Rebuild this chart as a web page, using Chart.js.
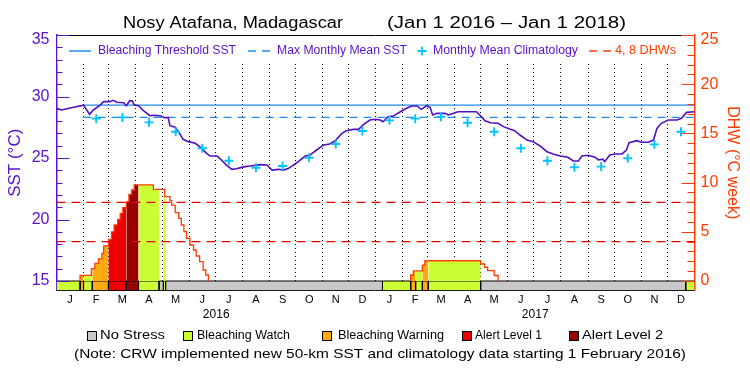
<!DOCTYPE html>
<html>
<head>
<meta charset="utf-8">
<script src="https://cdn.jsdelivr.net/npm/chart.js@4.4.0/dist/chart.umd.min.js"></script>
<style>
  html, body { margin: 0; padding: 0; background: #fff; }
</style>
</head>
<body>
<canvas id="crwChart" width="750" height="375"></canvas>
<script>
// x values are days since Jan 1 2016 (Jan 1 2018 = day 731)

// daily SST (°C)
const sstDays = [0, 6, 17, 31, 38, 42, 50, 54, 61, 65, 69, 77, 80, 84, 87, 89, 94, 99, 107, 111,
  119, 124, 128, 130, 136, 141, 145, 151, 159, 164, 172, 176, 184, 189, 195, 201, 206, 212, 216, 222,
  233, 241, 247, 254, 260, 266, 271, 277, 285, 290, 298, 306, 313, 319, 327, 332, 340, 346, 352, 359,
  365, 371, 374, 380, 386, 394, 401, 407, 413, 418, 424, 428, 431, 436, 445, 449, 455, 460, 481, 485,
  491, 497, 506, 512, 520, 525, 531, 539, 546, 554, 562, 569, 577, 586, 592, 598, 602, 609, 617, 621,
  626, 628, 634, 640, 648, 653, 656, 665, 670, 678, 684, 688, 693, 701, 711, 716, 722, 731];
const sstValues = [29.05, 28.9, 29.09, 29.3, 28.55, 28.9, 29.3, 29.58, 29.58, 29.69, 29.53, 29.5, 29.25, 29.66, 29.63, 29.3, 29.25, 28.9, 28.44, 28.47,
  28.44, 28.28, 28.28, 27.63, 27.5, 27.0, 26.52, 26.33, 26.2, 25.92, 25.38, 25.16, 25.16, 24.84, 24.4, 24.08, 24.13, 24.24, 24.3, 24.35,
  24.46, 24.43, 24.02, 24.08, 24.02, 24.16, 24.4, 24.7, 25.16, 25.22, 25.65, 26.06, 26.14, 26.38, 27.0, 27.22, 27.33, 27.33, 27.74, 28.09,
  28.15, 28.09, 27.95, 28.36, 28.41, 28.76, 29.04, 29.23, 29.23, 28.96, 29.25, 29.12, 28.5, 28.63, 28.63, 28.5, 28.63, 28.76, 28.76, 28.5,
  28.03, 27.87, 27.82, 27.55, 27.33, 27.22, 26.87, 26.46, 26.33, 25.98, 25.51, 25.33, 25.16, 25.06, 24.76, 24.76, 25.16, 25.22, 25.06, 24.84,
  24.9, 24.7, 25.24, 25.33, 25.33, 25.65, 26.24, 26.41, 26.28, 26.28, 26.46, 27.41, 27.82, 28.09, 28.09, 28.23, 28.71, 28.76];

// monthly mean climatology, Feb 2016 .. Dec 2017 (plotted mid-month)
const climStart = [2016, 1];
const climValues = [28.2, 28.3, 27.9, 27.14, 25.79, 24.78, 24.21, 24.35, 25.02, 26.14, 27.2,
  28.06, 28.2, 28.36, 27.87, 27.14, 25.79, 24.78, 24.24, 24.3, 24.98, 26.11, 27.14];

const thresholdSst = 29.3;   // bleaching threshold
const mmmSst = 28.3;         // max monthly mean
const refStartDay = 31;      // both reference lines start Feb 1 2016
const dhwGuides = [4, 8];

// degree heating weeks, stepped; null splits the two events
const dhwDays = [27, 27, 31, 40, 41, 44, 48, 52, 54, 59.5, 63, 66, 70, 73, 76, 80, 83, 86, 89, 94,
  111, 117.5, 122.5, 124, 125, 130, 132, 136, 140, 143, 146, 149, 153, 157, 160, 164, 168, 171, 174,
  300,
  405.8, 405.8, 409, 411.5, 419.2, 422, 426, 486, 490.5, 494, 501.5, 506];
const dhwValues = [0, 0.58, 0.58, 1.25, 1.25, 1.8, 2.24, 2.8, 3.56, 4.24, 5.0, 5.7, 6.27, 6.88, 7.45, 8.06, 8.8, 9.25, 9.76, 9.76,
  9.32, 9.32, 9.32, 8.57, 8.57, 8.16, 7.72, 6.94, 6.37, 5.69, 5.01, 4.34, 3.66, 3.15, 2.54, 1.96, 1.12, 0.61, 0,
  null,
  0, 0.61, 1.02, 1.02, 1.63, 2.06, 2.06, 1.73, 1.4, 1.05, 0.56, 0];

// bleaching alert strip: segment start days and level (0 none .. 4 alert 2)
const stressDays = [0, 27, 31, 41, 59.5, 80, 94, 117.5, 122.5, 125, 373.5, 405.8, 411.5, 419.2, 426, 486, 721, 731];
const stressLevels = [1, 2, 1, 2, 3, 4, 1, 0, 1, 0, 1, 2, 1, 2, 1, 0, 1];

const stressNames = ['No Stress', 'Bleaching Watch', 'Bleaching Warning', 'Alert Level 1', 'Alert Level 2'];
const stressColors = ['#c8c8c8', '#ccff33', '#ffaa11', '#ee0000', '#990000'];

const monthLetters = ['J', 'F', 'M', 'A', 'M', 'J', 'J', 'A', 'S', 'O', 'N', 'D'];
const years = [2016, 2017];
const sstTicks = [15, 20, 25, 30, 35];
const dhwTicks = [0, 5, 10, 15, 20, 25];

const PURPLE = '#5a10cc';
const SST_LINE = '#5010c0';
const BLUE = '#1e8cf0';
const CYAN = '#00c4ff';
const DHW_RED = '#ff3c00';
const GUIDE_RED = '#e80000';
const FONT = 'Liberation Sans, Arial, sans-serif';

// axis ranges: SST 15..35 and DHW 0..25 share the pixels, strip hangs below
const SST_MIN = 14.23, SST_MAX = 35;
const DHW_MIN = -0.965, DHW_MAX = 25;

function dayOf(y, m, d) {
    return (Date.UTC(y, m, d) - Date.UTC(2016, 0, 1)) / 864e5;
}

const monthStarts = [];
const monthMids = [];
const monthLabels = [];
years.forEach(y => {
    for (let m = 0; m < 12; m++) {
        const a = dayOf(y, m, 1), b = dayOf(y, m + 1, 1);
        monthStarts.push(a);
        monthMids.push((a + b) / 2);
        monthLabels.push(monthLetters[m]);
    }
});
const yearMids = years.map(y => (dayOf(y, 0, 1) + dayOf(y + 1, 0, 1)) / 2);

const climPoints = climValues.map((v, i) => {
    const y = climStart[0], m = climStart[1] + i;
    return { x: (dayOf(y, m, 1) + dayOf(y, m + 1, 1)) / 2, y: v };
});

function levelAt(day) {
    for (let i = 0; i < stressLevels.length; i++) {
        if (day >= stressDays[i] && day < stressDays[i + 1]) return stressLevels[i];
    }
    return 0;
}

const sstPoints = sstDays.map((d, i) => ({ x: d, y: sstValues[i] }));
const dhwPoints = dhwDays.map((d, i) => ({ x: d, y: dhwValues[i] }));
const stripPoints = stressDays.map(d => ({ x: d, y: 0 }));
const stripEdges = [];
stressDays.slice(1, -1).forEach(d => {
    stripEdges.push({ x: d, y: 0 }, { x: d, y: DHW_MIN }, { x: d, y: null });
});

const midOf = c => (c.p0.parsed.x + c.p1.parsed.x) / 2;

// the top label of each y axis sits just under the frame, not centred on it
const topLabel = top => (v => v === top ? ['', String(v)] : String(v));
const topFont = top => (c => (c.tick && c.tick.value === top)
    ? { family: FONT, size: 16, lineHeight: '10px' }
    : { family: FONT, size: 16 });

// text squeezed/stretched to span x0..x1
function spanText(ctx, text, x0, x1, yMid, size, color) {
    ctx.save();
    ctx.font = size + 'px ' + FONT;
    ctx.fillStyle = color;
    ctx.textBaseline = 'middle';
    ctx.textAlign = 'left';
    const w = ctx.measureText(text).width;
    ctx.translate(x0, yMid);
    ctx.scale((x1 - x0) / w, 1);
    ctx.fillText(text, 0, 0);
    ctx.restore();
}

function hLine(ctx, x0, x1, y, color, dash, width) {
    ctx.save();
    ctx.strokeStyle = color;
    ctx.lineWidth = width || 1.5;
    ctx.setLineDash(dash || []);
    ctx.beginPath();
    ctx.moveTo(x0, y);
    ctx.lineTo(x1, y);
    ctx.stroke();
    ctx.restore();
}

const decor = {
    id: 'crwDecor',
    afterDatasetsDraw(chart) {
        const ctx = chart.ctx;
        const a = chart.chartArea;
        // in-plot key, on a white band
        ctx.save();
        ctx.fillStyle = '#fff';
        ctx.fillRect(a.left + 1, a.top + 1, a.right - a.left - 2, 27);
        ctx.restore();
        const ky = 51;
        hLine(ctx, 69, 91, ky, BLUE);
        spanText(ctx, 'Bleaching Threshold SST', 98, 236, ky, 12, PURPLE);
        hLine(ctx, 248, 271, ky, BLUE, [8, 6]);
        spanText(ctx, 'Max Monthly Mean SST', 277, 407, ky, 12, PURPLE);
        ctx.save();
        ctx.strokeStyle = CYAN;
        ctx.lineWidth = 1.8;
        ctx.beginPath();
        ctx.moveTo(422 - 4.5, ky); ctx.lineTo(422 + 4.5, ky);
        ctx.moveTo(422, ky - 4.5); ctx.lineTo(422, ky + 4.5);
        ctx.stroke();
        ctx.restore();
        spanText(ctx, 'Monthly Mean Climatology', 433, 578, ky, 12, PURPLE);
        hLine(ctx, 589, 611, ky, DHW_RED, [8, 6]);
        spanText(ctx, '4, 8 DHWs', 615, 676, ky, 12, DHW_RED);
    },
    afterDraw(chart) {
        const ctx = chart.ctx;
        const a = chart.chartArea;
        const yS = chart.scales.y, yD = chart.scales.y2;
        // inward tick marks
        ctx.save();
        ctx.lineWidth = 1;
        ctx.strokeStyle = PURPLE;
        ctx.beginPath();
        for (let v = sstTicks[0]; v <= sstTicks[sstTicks.length - 1]; v++) {
            const py = Math.round(yS.getPixelForValue(v)) + 0.5;
            ctx.moveTo(a.left, py);
            ctx.lineTo(a.left + (v % 5 ? 6 : 13), py);
        }
        ctx.stroke();
        ctx.strokeStyle = DHW_RED;
        ctx.beginPath();
        for (let v = dhwTicks[0]; v <= dhwTicks[dhwTicks.length - 1]; v++) {
            const py = Math.round(yD.getPixelForValue(v)) + 0.5;
            ctx.moveTo(a.right, py);
            ctx.lineTo(a.right - (v % 5 ? 7 : 13), py);
        }
        ctx.stroke();
        ctx.restore();

        // title
        spanText(ctx, 'Nosy Atafana, Madagascar', 123, 343, 23.5, 16, '#000');
        spanText(ctx, '(Jan 1 2016 \u2013 Jan 1 2018)', 387, 626, 23.5, 16, '#000');

        // stress key
        const boxes = [[87, 100, 165], [183, 197, 290], [322, 338, 444], [462, 475, 542], [569, 582, 663]];
        const ly = 335.5;
        boxes.forEach((b, i) => {
            ctx.save();
            ctx.fillStyle = stressColors[i];
            ctx.fillRect(b[0], ly - 4.5, 9, 9);
            ctx.strokeStyle = '#000';
            ctx.lineWidth = 1;
            ctx.strokeRect(b[0] + 0.5, ly - 4.5 + 0.5, 9, 9);
            ctx.restore();
            spanText(ctx, stressNames[i], b[1], b[2], ly, 12, '#000');
        });
        spanText(ctx, '(Note: CRW implemented new 50-km SST and climatology data starting 1 February 2016)',
            74, 686, 354, 13, '#000');
    }
};

const ctx = document.getElementById('crwChart').getContext('2d');
const chart = new Chart(ctx, {
    type: 'line',
    data: {
        datasets: [
            {
                label: 'strip edges',
                data: stripEdges,
                yAxisID: 'y2',
                borderColor: '#000',
                borderWidth: 1,
                pointRadius: 0,
                spanGaps: false,
                order: 1
            },
            {
                label: 'Monthly Mean Climatology',
                data: climPoints,
                yAxisID: 'y',
                showLine: false,
                pointStyle: 'cross',
                pointRadius: 4.5,
                pointBorderWidth: 1.9,
                pointBorderColor: CYAN,
                borderColor: CYAN,
                order: 2
            },
            {
                label: 'SST',
                data: sstPoints,
                yAxisID: 'y',
                borderColor: SST_LINE,
                borderWidth: 1.6,
                pointRadius: 0,
                order: 3
            },
            {
                label: 'Bleaching Threshold SST',
                data: [{ x: refStartDay, y: thresholdSst }, { x: 731, y: thresholdSst }],
                yAxisID: 'y',
                borderColor: BLUE,
                borderWidth: 1.2,
                pointRadius: 0,
                order: 5
            },
            {
                label: 'Max Monthly Mean SST',
                data: [{ x: refStartDay, y: mmmSst }, { x: 731, y: mmmSst }],
                yAxisID: 'y',
                borderColor: BLUE,
                borderWidth: 1.2,
                borderDash: [8, 6],
                pointRadius: 0,
                order: 5
            },
            ...dhwGuides.map(v => ({
                label: v + ' DHW',
                data: [{ x: 0, y: v }, { x: 731, y: v }],
                yAxisID: 'y2',
                borderColor: GUIDE_RED,
                borderWidth: 1.2,
                borderDash: [9, 6],
                pointRadius: 0,
                order: 7
            })),
            {
                label: 'DHW',
                data: dhwPoints,
                yAxisID: 'y2',
                stepped: true,
                spanGaps: false,
                borderColor: DHW_RED,
                borderWidth: 1.3,
                pointRadius: 0,
                fill: 'origin',
                backgroundColor: 'rgba(0,0,0,0)',
                segment: {
                    backgroundColor: c => {
                        const lv = levelAt(midOf(c));
                        return lv ? stressColors[lv] : 'rgba(0,0,0,0)';
                    }
                },
                order: 9
            },
            {
                label: 'strip',
                data: stripPoints,
                yAxisID: 'y2',
                stepped: true,
                borderColor: '#000',
                borderWidth: 1,
                pointRadius: 0,
                fill: 'start',
                backgroundColor: stressColors[0],
                segment: {
                    backgroundColor: c => stressColors[levelAt(midOf(c))]
                },
                order: 10
            }
        ]
    },
    options: {
        responsive: false,
        animation: false,
        events: [],
        layout: { padding: { top: 35, bottom: 51.5, left: 0, right: 0 } },
        plugins: {
            legend: { display: false },
            title: { display: false },
            tooltip: { enabled: false }
        },
        scales: {
            x: {
                type: 'linear',
                position: 'bottom',
                min: 0,
                max: 731,
                afterBuildTicks: s => { s.ticks = monthMids.map(v => ({ value: v })); },
                afterFit: s => { s.height = 16; },
                ticks: {
                    callback: (v, i) => monthLabels[i],
                    autoSkip: false,
                    maxRotation: 0,
                    padding: 3,
                    color: '#000',
                    font: { family: FONT, size: 11 }
                },
                grid: { display: false, drawTicks: false },
                border: { display: true, color: '#000', width: 1 }
            },
            xYear: {
                type: 'linear',
                position: 'bottom',
                min: 0,
                max: 731,
                afterBuildTicks: s => { s.ticks = yearMids.map(v => ({ value: v })); },
                afterFit: s => { s.height = 17; },
                ticks: {
                    callback: (v, i) => String(years[i]),
                    autoSkip: false,
                    maxRotation: 0,
                    padding: 1,
                    color: '#000',
                    font: { family: FONT, size: 12 }
                },
                grid: { display: false, drawTicks: false },
                border: { display: false }
            },
            xGrid: {
                type: 'linear',
                position: 'top',
                min: 0,
                max: 731,
                afterBuildTicks: s => { s.ticks = monthStarts.slice(1).map(v => ({ value: v })); },
                afterFit: s => { s.height = 0; },
                ticks: { display: false },
                grid: { display: true, drawTicks: false, color: '#000', lineWidth: 1 },
                border: { display: true, color: '#000', width: 1, dash: [1, 3] }
            },
            y: {
                type: 'linear',
                position: 'left',
                min: SST_MIN,
                max: SST_MAX,
                afterBuildTicks: s => { s.ticks = sstTicks.map(v => ({ value: v })); },
                afterFit: s => { s.width = 56.5; },
                ticks: {
                    callback: topLabel(SST_MAX),
                    color: PURPLE,
                    padding: 7,
                    font: topFont(SST_MAX)
                },
                grid: { display: false, drawTicks: false },
                border: { display: true, color: PURPLE, width: 1.5 },
                title: {
                    display: true,
                    text: 'SST (\u00b0C)',
                    color: PURPLE,
                    font: { family: FONT, size: 17 },
                    padding: { top: 5, bottom: 0 }
                }
            },
            y2: {
                type: 'linear',
                position: 'right',
                min: DHW_MIN,
                max: DHW_MAX,
                afterBuildTicks: s => { s.ticks = dhwTicks.map(v => ({ value: v })); },
                afterFit: s => { s.width = 55.5; },
                ticks: {
                    callback: topLabel(DHW_MAX),
                    color: DHW_RED,
                    padding: 6,
                    font: topFont(DHW_MAX)
                },
                grid: { display: false, drawTicks: false },
                border: { display: true, color: DHW_RED, width: 1.5 },
                title: {
                    display: true,
                    text: 'DHW (\u00b0C week)',
                    color: DHW_RED,
                    font: { family: FONT, size: 16 },
                    padding: { top: 8, bottom: 0 }
                }
            }
        }
    },
    plugins: [decor]
});
</script>
</body>
</html>
